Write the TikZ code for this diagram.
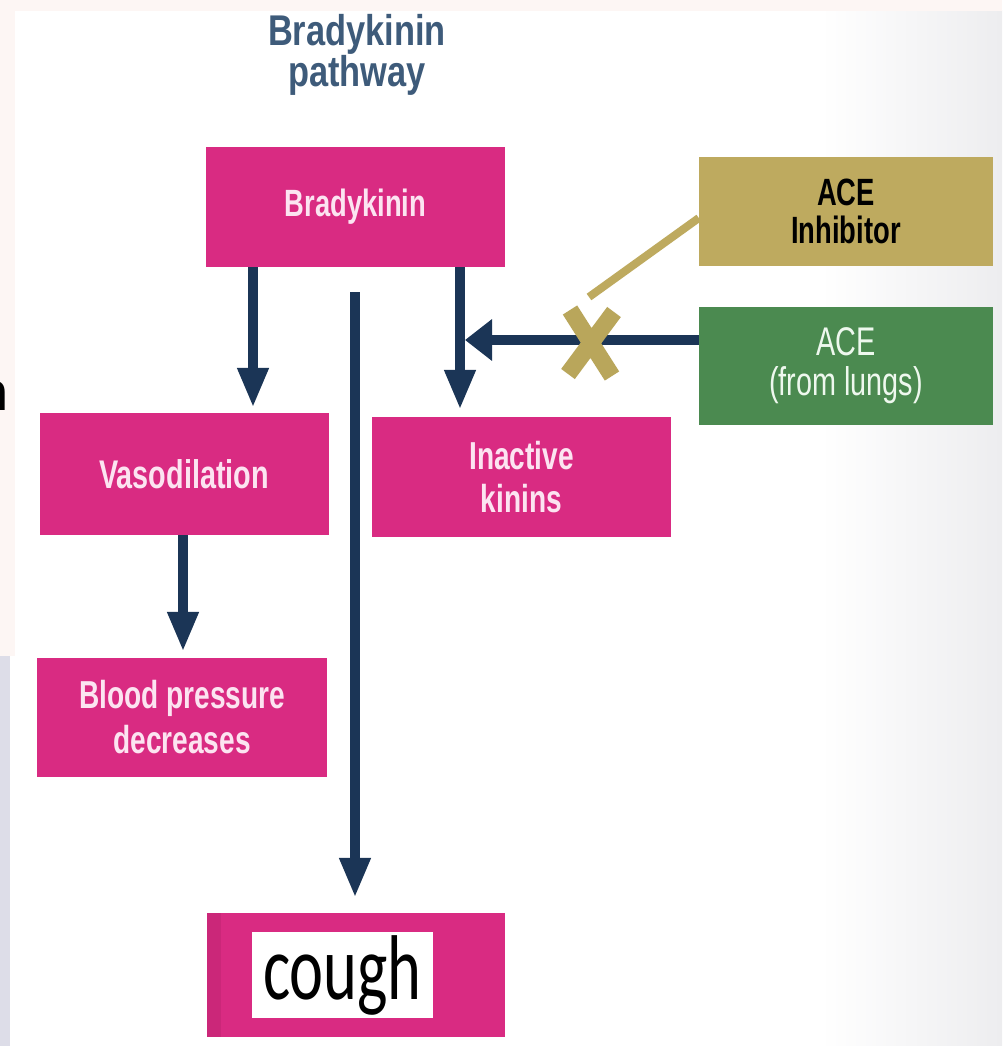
\documentclass[tikz,border=0pt]{standalone}
\usepackage{fontspec}
\setmainfont[FakeStretch=0.8]{Liberation Sans}
\newfontfamily\boxfont[FakeStretch=0.72]{Liberation Sans}
\newfontfamily\coughfont[FakeStretch=0.70]{Carlito}
\newfontfamily\edgefont{Liberation Sans}
\usetikzlibrary{arrows.meta}
\definecolor{mag}{HTML}{D92B82}
\definecolor{magdark}{HTML}{CB2779}
\definecolor{boxtxt}{HTML}{FCE4F1}
\definecolor{navy}{HTML}{1B3556}
\definecolor{gold}{HTML}{BEAA5F}
\definecolor{xgold}{HTML}{B9A65B}
\definecolor{leaf}{HTML}{4B8A50}
\definecolor{leaftxt}{HTML}{EEF8EE}
\definecolor{titlecol}{HTML}{3E5B7A}
\definecolor{pinkbg}{HTML}{FDF6F4}
\definecolor{lavbg}{HTML}{DDDDE8}
\definecolor{greybg}{HTML}{EDEDEF}
\begin{document}
\begin{tikzpicture}[x=1pt,y=-1pt,
  magbox/.style={fill=mag, text=boxtxt, inner sep=0pt, align=center},
  flow/.style={draw=navy, line width=10pt, -{Triangle[length=40pt,width=29pt]}},
  sideflow/.style={draw=navy, line width=10pt, -{Triangle[length=27pt,width=40pt]}},
  inhibline/.style={draw=gold, line width=8pt},
  crossmark/.style={draw=xgold, line width=17pt}
]
\useasboundingbox (0,0) rectangle (1002,1046);
\fill[white] (0,0) rectangle (1002,1046);
\shade[left color=white,right color=greybg] (820,11) rectangle (1002,1046);
\fill[pinkbg] (0,0) rectangle (1002,11);
\fill[pinkbg] (0,0) rectangle (15,656);
\fill[lavbg] (0,656) rectangle (10,1046);
\begin{scope}
\clip (0,0) rectangle (1002,1046);
\node[anchor=base east, inner sep=0pt, font=\edgefont\bfseries\fontsize{54}{54}\selectfont] (cutn) at (8.6,410) {n};
\end{scope}

\node[font=\bfseries\fontsize{43}{40}\selectfont, text=titlecol, align=center] (title) at (357,55) {Bradykinin\\pathway};

\node[magbox, minimum width=299pt, minimum height=120pt, font=\boxfont\bfseries\fontsize{38}{40}\selectfont] (brady) at (355.5,207) {Bradykinin};
\node[magbox, minimum width=289pt, minimum height=122pt, font=\boxfont\bfseries\fontsize{40}{42}\selectfont] (vaso) at (184,474) {Vasodilation};
\node[magbox, minimum width=290pt, minimum height=119pt, font=\boxfont\bfseries\fontsize{39}{45}\selectfont] (bp) at (182,717.5) {Blood pressure\\decreases};
\node[magbox, minimum width=299pt, minimum height=120pt, font=\boxfont\bfseries\fontsize{39}{43}\selectfont] (inact) at (521.5,477) {Inactive\\kinins};
\node[fill=gold, text=black, inner sep=0pt, align=center, minimum width=294pt, minimum height=109pt, font=\boxfont\bfseries\fontsize{38}{38}\selectfont] (inhib) at (846,211.5) {ACE\\Inhibitor};
\node[fill=leaf, text=leaftxt, inner sep=0pt, align=center, minimum width=294pt, minimum height=118pt, font=\boxfont\fontsize{40}{40}\selectfont] (ace) at (846,366) {ACE\\(from lungs)};

\node[fill=mag, minimum width=298pt, minimum height=124pt, inner sep=0pt] (cough) at (356,975) {};
\fill[magdark] (cough.north west) rectangle ([xshift=14pt]cough.south west);
\node[fill=white, minimum width=181pt, minimum height=86pt, inner sep=0pt, font=\coughfont\fontsize{92}{92}\selectfont] (coughtxt) at (342.5,975) {cough};

\draw[flow, shorten >=5pt] ([xshift=-102.5pt]brady.south) -- ([xshift=69pt]vaso.north);
\draw[flow, shorten >=7pt] ([xshift=104.5pt]brady.south) -- ([xshift=-61.5pt]inact.north);
\coordinate (midstart) at (355,292);
\draw[flow, shorten >=15pt] (midstart) -- (midstart |- cough.north);
\draw[flow, shorten >=6pt] ([xshift=-1pt]vaso.south) -- ([xshift=-1pt]vaso.south |- bp.north);
\coordinate (join) at (460,340);
\draw[sideflow, shorten >=5pt] (ace.west |- join) -- (join);

\coordinate (xtop) at (589,297);
\draw[inhibline] ([yshift=-6.5pt]inhib.west) -- (xtop);
\draw[crossmark] (570,310) -- (612,376) (614,312) -- (568,374);
\end{tikzpicture}
\end{document}
